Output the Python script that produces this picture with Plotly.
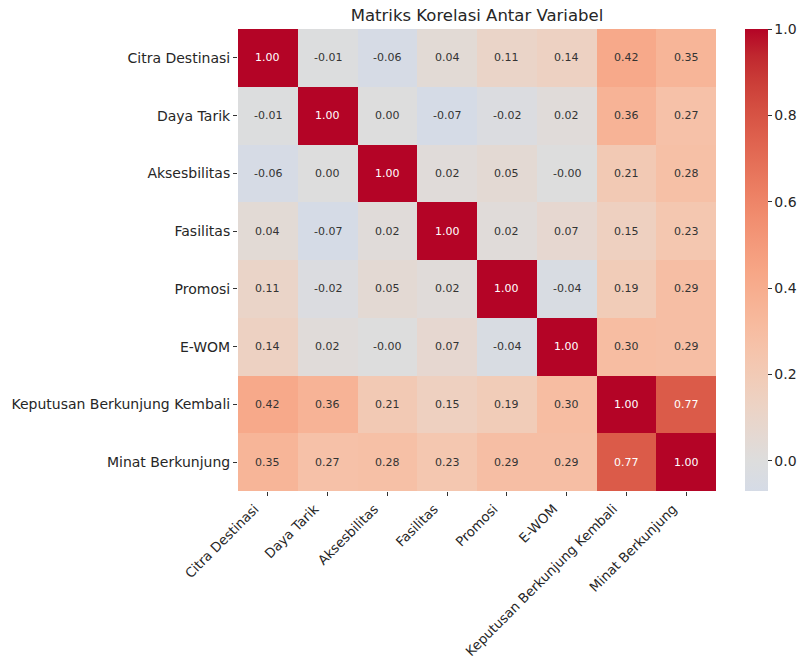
import plotly.graph_objects as go

labels = ["Citra Destinasi", "Daya Tarik", "Aksesbilitas", "Fasilitas",
          "Promosi", "E-WOM", "Keputusan Berkunjung Kembali", "Minat Berkunjung"]

row_citra = [1.00, -0.01, -0.06, 0.04, 0.11, 0.14, 0.42, 0.35]
row_daya = [-0.01, 1.00, 0.00, -0.07, -0.02, 0.02, 0.36, 0.27]
row_akses = [-0.06, 0.00, 1.00, 0.02, 0.05, -0.0, 0.21, 0.28]
row_fasil = [0.04, -0.07, 0.02, 1.00, 0.02, 0.07, 0.15, 0.23]
row_promosi = [0.11, -0.02, 0.05, 0.02, 1.00, -0.04, 0.19, 0.29]
row_ewom = [0.14, 0.02, -0.0, 0.07, -0.04, 1.00, 0.30, 0.29]
row_keputusan = [0.42, 0.36, 0.21, 0.15, 0.19, 0.30, 1.00, 0.77]
row_minat = [0.35, 0.27, 0.28, 0.23, 0.29, 0.29, 0.77, 1.00]

z = [row_citra, row_daya, row_akses, row_fasil, row_promosi, row_ewom, row_keputusan, row_minat]

zmin, zmax = -0.07, 1.0

# matplotlib coolwarm (Moreland) upper half, centred at 0 (seaborn center=0)
cw = [
    (0.46875, (213, 219, 230)), (0.5, (221, 221, 221)), (0.53125, (229, 216, 209)),
    (0.5625, (236, 211, 197)), (0.59375, (241, 204, 184)), (0.625, (245, 196, 172)),
    (0.65625, (247, 187, 159)), (0.6875, (247, 177, 147)), (0.71875, (247, 166, 134)),
    (0.75, (244, 154, 123)), (0.78125, (241, 141, 111)), (0.8125, (236, 127, 99)),
    (0.84375, (229, 112, 88)), (0.875, (222, 96, 77)), (0.90625, (213, 80, 66)),
    (0.9375, (203, 62, 56)), (0.96875, (192, 40, 47)), (1.0, (180, 4, 38)),
]
colorscale = []
for t, c in cw:
    s = (2 * t - 1 - zmin) / (zmax - zmin)
    s = max(0.0, min(1.0, s))
    colorscale.append([s, "rgb(%d,%d,%d)" % c])
colorscale[0][0] = 0.0

text = [[f"{v:.2f}" for v in row] for row in z]

FONT = "DejaVu Sans"
fig = go.Figure(go.Heatmap(
    z=z, x=labels, y=labels, zmin=zmin, zmax=zmax,
    colorscale=colorscale, showscale=True, xgap=0, ygap=0,
    hoverinfo="skip",
    colorbar=dict(
        x=(745 - 238) / 478, xanchor="left", xpad=0, y=0.5, yanchor="middle",
        len=1.0, lenmode="fraction", ypad=0,
        thickness=23, outlinewidth=0, ticks="outside", ticklen=4, tickwidth=1,
        tickcolor="#333", tickvals=[0.0, 0.2, 0.4, 0.6, 0.8, 1.0],
        ticktext=["0.0", "0.2", "0.4", "0.6", "0.8", "1.0"],
        tickfont=dict(size=14, color="#262626", family=FONT),
    ),
))

for i, row in enumerate(z):
    for j, v in enumerate(row):
        fig.add_annotation(
            x=labels[j], y=labels[i], text=text[i][j], showarrow=False,
            font=dict(size=11, family=FONT,
                      color="white" if v > 0.6 else "#333333"),
        )

fig.update_layout(
    width=799, height=659,
    margin=dict(l=238, r=83, t=29, b=168, autoexpand=False),
    paper_bgcolor="white", plot_bgcolor="white",
    title=dict(text="Matriks Korelasi Antar Variabel", x=477 / 799,
               xanchor="center", y=1 - 15 / 659, yanchor="middle",
               font=dict(size=16.5, color="#262626", family=FONT)),
    xaxis=dict(tickangle=-45, ticks="outside", ticklen=4, tickcolor="#333",
               ticklabelshift=-13, ticklabelstandoff=0,
               tickfont=dict(size=13.3, color="#262626", family=FONT),
               showgrid=False, zeroline=False, showline=False),
    yaxis=dict(autorange="reversed", ticks="outside", ticklen=4, tickcolor="#333",
               tickfont=dict(size=14, color="#262626", family=FONT),
               showgrid=False, zeroline=False, showline=False),
)

fig.write_html("out.html")
